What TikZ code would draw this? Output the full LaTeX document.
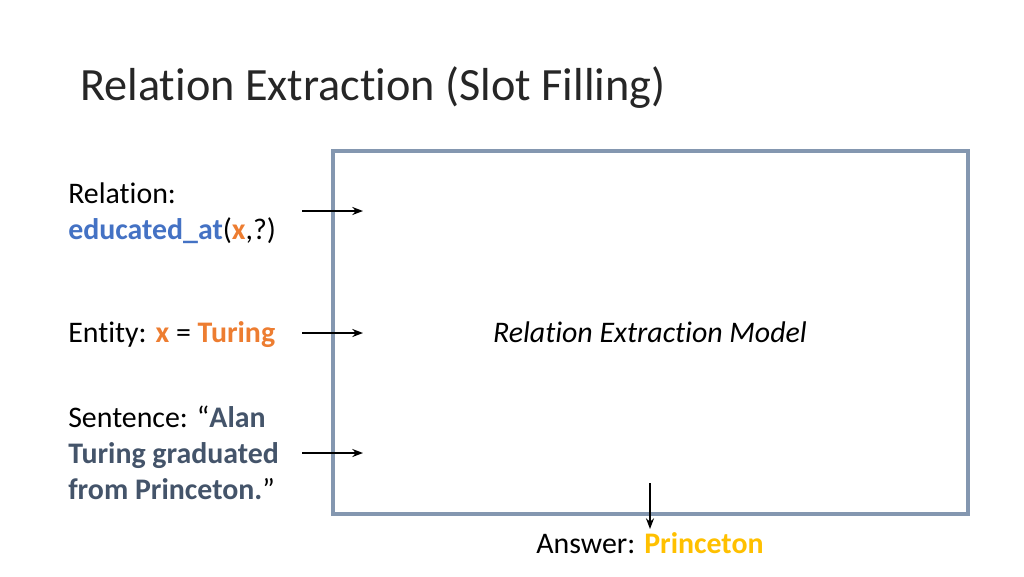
\documentclass[tikz,border=0pt]{standalone}
\usepackage{fontspec}
\setmainfont[RawFeature=-liga]{Carlito}
\usetikzlibrary{positioning,calc,arrows.meta}
\definecolor{relblue}{HTML}{4472C4}
\definecolor{entorange}{HTML}{ED7D31}
\definecolor{ansgold}{HTML}{FFC000}
\definecolor{sentslate}{HTML}{44546A}
\definecolor{boxgray}{HTML}{8497B0}
\definecolor{titlegray}{HTML}{262626}
\begin{document}
\begin{tikzpicture}[x=0.75pt, y=-0.75pt,
  txt/.style={anchor=base west, inner sep=0pt, font=\fontsize{22.4}{27}\selectfont},
  arr/.style={-{Stealth[length=8pt,width=6pt]}, line width=1.8pt}]
\useasboundingbox (0,0) rectangle (1024,576);

\node[txt, text=titlegray, font=\fontsize{34.7}{42}\selectfont] (title) at (80,100) {Relation Extraction (Slot Filling)};

\draw[boxgray, line width=2.5pt] (333,151) rectangle (968,514);
\node[txt, anchor=base] (model) at (650,342) {\itshape Relation Extraction Model};

\node[txt] (rel1) at (68,203) {Relation:};
\node[txt] (rel2) at (68,239) {\textbf{\textcolor{relblue}{educated\_at}}(\textbf{\textcolor{entorange}{x}},?)};
\node[txt] (ent) at (68,342) {Entity: \textbf{\textcolor{entorange}{x}} = \textbf{\textcolor{entorange}{Turing}}};
\node[txt] (sent1) at (68,427) {Sentence: “\textbf{\textcolor{sentslate}{Alan}}};
\node[txt] (sent2) at (68,463) {\textbf{\textcolor{sentslate}{Turing graduated}}};
\node[txt] (sent3) at (68,499) {\textbf{\textcolor{sentslate}{from Princeton.}}”};
\node[txt, anchor=base] (answer) at (650,553) {Answer: \textbf{\textcolor{ansgold}{Princeton}}};

\coordinate (a1) at (302,211);
\coordinate (a2) at (302,333);
\coordinate (a3) at (302,453);
\coordinate (d1) at (650,483);
\draw[arr] (a1) -- ++(61,0);
\draw[arr] (a2) -- ++(61,0);
\draw[arr] (a3) -- ++(61,0);
\draw[arr] (d1) -- ++(0,46);
\end{tikzpicture}
\end{document}
